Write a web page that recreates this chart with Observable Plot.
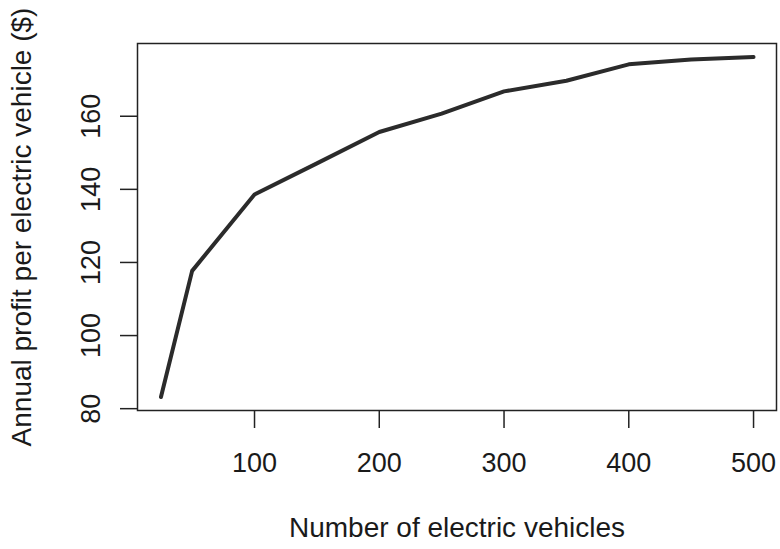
<!DOCTYPE html>
<html>
<head>
<meta charset="utf-8">
<script src="https://cdn.jsdelivr.net/npm/d3@7"></script>
<script src="https://cdn.jsdelivr.net/npm/@observablehq/plot@0.6"></script>
<style>
  html, body { margin: 0; padding: 0; background: #fff; }
  #chart svg { display: block; }
</style>
</head>
<body>
<div id="chart"></div>
<script>
const vehicles = [25, 50, 100, 150, 200, 250, 300, 350, 400, 450, 500];
const profit = [83.2, 117.7, 138.6, 147.1, 155.7, 160.7, 166.8, 169.7, 174.2, 175.5, 176.2];
const xTicks = [100, 200, 300, 400, 500];
const yTicks = [80, 100, 120, 140, 160];
const xTitle = "Number of electric vehicles";
const yTitle = "Annual profit per electric vehicle ($)";

const data = vehicles.map((v, i) => ({v, p: profit[i]}));
const font = "'Liberation Sans', Arial, Helvetica, sans-serif";

const chart = Plot.plot({
  width: 780,
  height: 549,
  marginLeft: 137,
  marginRight: 4,
  marginTop: 43,
  marginBottom: 139,
  style: {fontFamily: font, background: "#fff", color: "#1a1a1a"},
  x: {domain: [6.2, 518.4], axis: null},
  y: {domain: [79.5, 179.9], axis: null},
  marks: [
    Plot.line(data, {x: "v", y: "p", stroke: "#2b2b2b", strokeWidth: 4, strokeLinejoin: "round"}),
    Plot.frame({stroke: "#222", strokeWidth: 1.5}),
    Plot.axisX(xTicks, {label: null, tickSize: 18, tickPadding: 24, fontSize: 27, stroke: "#222", strokeWidth: 1.5, fill: "#1a1a1a"}),
    Plot.axisY(yTicks, {label: null, tickSize: 17, tickFormat: () => "", stroke: "#222", strokeWidth: 1.5}),
    Plot.text(yTicks, {y: d => d, text: d => String(d), frameAnchor: "left", dx: -38, rotate: -90, textAnchor: "middle", lineAnchor: "bottom", fontSize: 27, fill: "#1a1a1a"}),
    Plot.text([xTitle], {frameAnchor: "bottom", dy: 118, textAnchor: "middle", lineAnchor: "middle", fontSize: 28, fill: "#1a1a1a"}),
    Plot.text([yTitle], {frameAnchor: "left", dx: -115, rotate: -90, textAnchor: "middle", lineAnchor: "middle", fontSize: 28, fill: "#1a1a1a"})
  ]
});
document.getElementById("chart").appendChild(chart);
</script>
</body>
</html>
